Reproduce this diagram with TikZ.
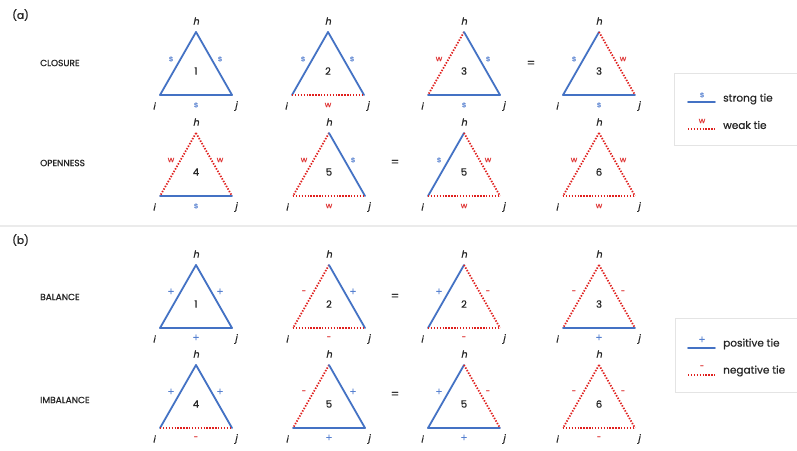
\documentclass[tikz,border=0pt]{standalone}
\usepackage{fontspec}
\setmainfont{Poppins}[FakeBold=0.6]
\newfontfamily\slfont{Poppins}[FakeSlant=0.2,FakeBold=0.8]
\newfontfamily\secfont{Poppins}[FakeBold=1.0]
\usetikzlibrary{calc}
\definecolor{tblue}{HTML}{4472C4}
\definecolor{tred}{HTML}{E0201E}
\definecolor{lblue}{HTML}{5580D0}
\definecolor{lred}{HTML}{E03A3A}
\definecolor{sepgray}{HTML}{EBEBEB}
\definecolor{boxgray}{HTML}{E4E4E4}
\newcommand\plusl{{\fontsize{10.5}{10}\selectfont +}}
\tikzset{
  edge b/.style={draw=tblue, line width=1.8pt, line cap=round},
  edge r/.style={draw=tred, line width=1.8pt, dash pattern=on 1.4pt off 1.5pt},
  lab b/.style={text=lblue, font=\fontsize{8}{9}\selectfont, inner sep=0pt},
  lab r/.style={text=lred, font=\fontsize{8}{9}\selectfont, inner sep=0pt},
  vlab/.style={font=\fontsize{9.5}{10}\slfont, inner sep=0pt, text=black!85},
  numlab/.style={font=\fontsize{10}{11}\selectfont, inner sep=0pt, text=black!85},
  seclab/.style={font=\fontsize{9}{10}\secfont, inner sep=0pt, anchor=west, text=black!85},
  eqlab/.style={font=\fontsize{12}{12}\secfont, inner sep=0pt, text=black!80},
  leglab/.style={font=\fontsize{10.5}{11}\selectfont, inner sep=0pt, anchor=west, text=black!85},
  legbox/.style={draw=boxgray, line width=0.8pt},
}
\newcommand\tri[9]{%
  \coordinate (#1h) at #2;
  \coordinate (#1i) at ($(#1h)+(-36,63)$);
  \coordinate (#1j) at ($(#1h)+(36,63)$);
  \draw[edge #4] (#1h) -- (#1i);
  \draw[edge #6] (#1h) -- (#1j);
  \draw[edge #8] (#1i) -- (#1j);
  \node[vlab] (#1hl) at ($(#1h)+(0,-11)$) {h};
  \node[vlab] (#1il) at ($(#1h)+(-42,74)$) {i};
  \node[vlab] (#1jl) at ($(#1h)+(40,74)$) {j};
  \node[numlab] (#1n) at ($(#1h)+(0,39)$) {#3};
  \node[lab #4] (#1la) at ($(#1h)+(-25,27)$) {#5};
  \node[lab #6] (#1ra) at ($(#1h)+(24,27)$) {#7};
  \node[lab #8] (#1ba) at ($(#1h)+(0,73)$) {#9};
}
\begin{document}
\begin{tikzpicture}[x=1pt,y=-1pt]
\useasboundingbox[fill=white] (0,0) rectangle (797,450);
% section headers
\node[seclab, font=\fontsize{10.5}{11}\secfont] (pa) at (12,15) {(a)};
\node[seclab, font=\fontsize{10.5}{11}\secfont] (pb) at (12,240) {(b)};
\node[seclab] (closure) at (40,63) {CLOSURE};
\node[seclab] (openness) at (40,163) {OPENNESS};
\node[seclab] (balance) at (40,297) {BALANCE};
\node[seclab] (imbalance) at (40,400) {IMBALANCE};
% separator
\coordinate (sepl) at (0,226);
\coordinate (sepr) at (797,226);
\draw[sepgray, line width=1.5pt] (sepl) -- (sepr);
% row 1
\tri{a}{(196,32)}{1}{b}{s}{b}{s}{b}{s}
\tri{b}{(328,32)}{2}{b}{s}{b}{s}{r}{w}
\tri{c}{(464,32)}{3}{r}{w}{b}{s}{b}{s}
\node[eqlab] (eq1) at (531,64) {=};
\tri{d}{(599,32)}{3}{b}{s}{r}{w}{b}{s}
% row 2
\tri{e}{(196,133)}{4}{r}{w}{r}{w}{b}{s}
\tri{f}{(329,133)}{5}{r}{w}{b}{s}{r}{w}
\node[eqlab] (eq2) at (395,163) {=};
\tri{g}{(464,133)}{5}{b}{s}{r}{w}{r}{w}
\tri{k}{(599,133)}{6}{r}{w}{r}{w}{r}{w}
% row 3
\tri{l}{(196,265)}{1}{b}{\plusl}{b}{\plusl}{b}{\plusl}
\tri{m}{(329,265)}{2}{r}{-}{b}{\plusl}{r}{-}
\node[eqlab] (eq3) at (395,297) {=};
\tri{n}{(464,265)}{2}{b}{\plusl}{r}{-}{r}{-}
\tri{o}{(599,265)}{3}{r}{-}{r}{-}{b}{\plusl}
% row 4
\tri{p}{(196,365)}{4}{b}{\plusl}{b}{\plusl}{r}{-}
\tri{q}{(329,365)}{5}{r}{-}{b}{\plusl}{b}{\plusl}
\node[eqlab] (eq4) at (395,395) {=};
\tri{r}{(464,365)}{5}{b}{\plusl}{r}{-}{b}{\plusl}
\tri{t}{(599,365)}{6}{r}{-}{r}{-}{r}{-}
% legend (a)
\coordinate (la1) at (674,73);
\coordinate (la2) at (797.5,145);
\draw[legbox] (la1) rectangle (la2);
\coordinate (sa) at (688,102); \coordinate (sb) at (715,102);
\draw[edge b] (sa) -- (sb);
\node[lab b] (sl) at (702,95) {s};
\node[leglab] (st) at (723,99) {strong tie};
\coordinate (wa) at (688,129); \coordinate (wb) at (715,129);
\draw[edge r] (wa) -- (wb);
\node[lab r] (wl) at (702,121) {w};
\node[leglab] (wt) at (723,125) {weak tie};
% legend (b)
\coordinate (lb1) at (675,318);
\coordinate (lb2) at (797.5,392);
\draw[legbox] (lb1) rectangle (lb2);
\coordinate (pa1) at (688,348); \coordinate (pb1) at (715,348);
\draw[edge b] (pa1) -- (pb1);
\node[lab b] (pl) at (702,340) {\plusl};
\node[leglab] (pt) at (723,344) {positive tie};
\coordinate (na) at (688,375); \coordinate (nb) at (715,375);
\draw[edge r] (na) -- (nb);
\node[lab r] (nl) at (702,367) {-};
\node[leglab] (nt) at (723,371) {negative tie};
\end{tikzpicture}
\end{document}
